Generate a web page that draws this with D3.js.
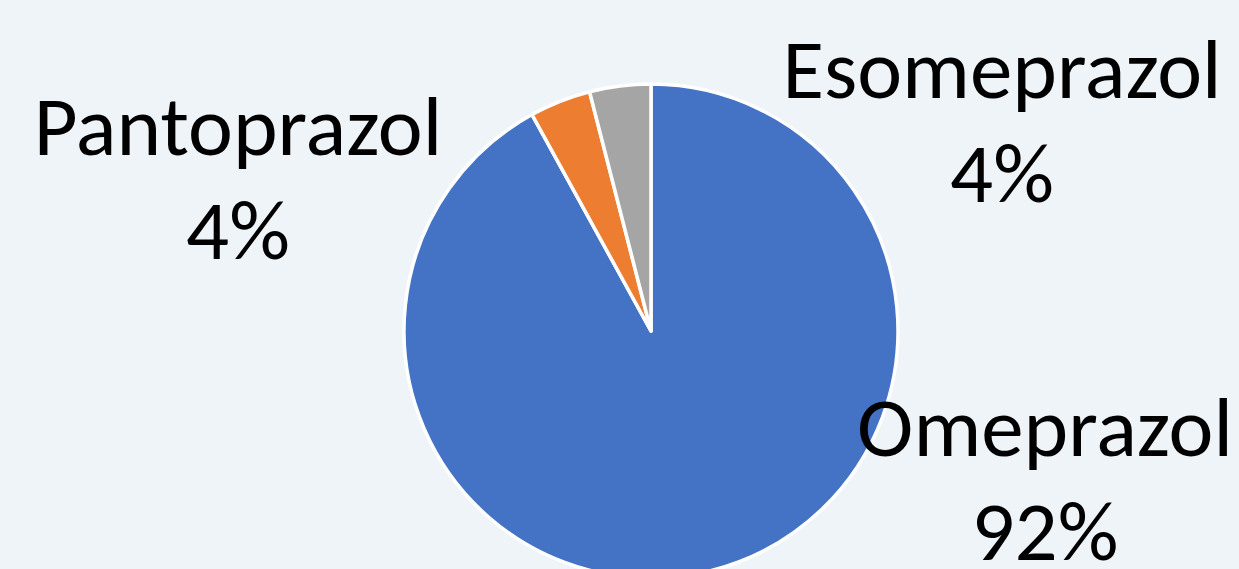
<!DOCTYPE html>
<html lang="en">
<head>
<meta charset="UTF-8">
<title>PPI pie</title>
<style>
  html, body { margin: 0; padding: 0; background: #eff4f9; }
  svg { display: block; }
  .lbl { font-family: Calibri, Carlito, Lato, "Open Sans", sans-serif; font-size: 85px; fill: #000; }
</style>
</head>
<body>
<svg width="1239" height="569" id="svg"></svg>
<script src="https://d3js.org/d3.v7.min.js"></script>
<script>
  const categories = ["Omeprazol", "Pantoprazol", "Esomeprazol"]
  const values = [92, 4, 4]
  const colors = ["#4472c4", "#ed7d31", "#a5a5a5"]
  // where each label block sits (centre x, first baseline y)
  const labelPos = [[1045, 456], [238, 155], [1002, 98]]

  const svg = d3.select("svg#svg")
  const cx = 651, cy = 331, r = 247
  const data = categories.map((c, i) => ({ name: c, value: values[i] }))

  const pie = d3.pie().value(d => d.value).sort(null)
  const arc = d3.arc().innerRadius(0).outerRadius(r)
  const color = d3.scaleOrdinal().domain(categories).range(colors)
  const total = d3.sum(values)

  const g = svg.append("g").attr("transform", `translate(${cx},${cy})`)
  g.selectAll("path").data(pie(data)).join("path")
    .attr("d", arc)
    .attr("fill", d => color(d.data.name))
    .attr("stroke", "#fff")
    .attr("stroke-width", 3.5)
    .attr("stroke-linejoin", "round")

  const labels = svg.selectAll("text.lbl").data(data).join("text")
    .attr("class", "lbl")
    .attr("text-anchor", "middle")
  labels.append("tspan")
    .attr("x", (d, i) => labelPos[i][0])
    .attr("y", (d, i) => labelPos[i][1])
    .text(d => d.name)
  labels.append("tspan")
    .attr("x", (d, i) => labelPos[i][0])
    .attr("dy", 104)
    .text(d => d3.format(".0%")(d.value / total))
</script>
</body>
</html>
